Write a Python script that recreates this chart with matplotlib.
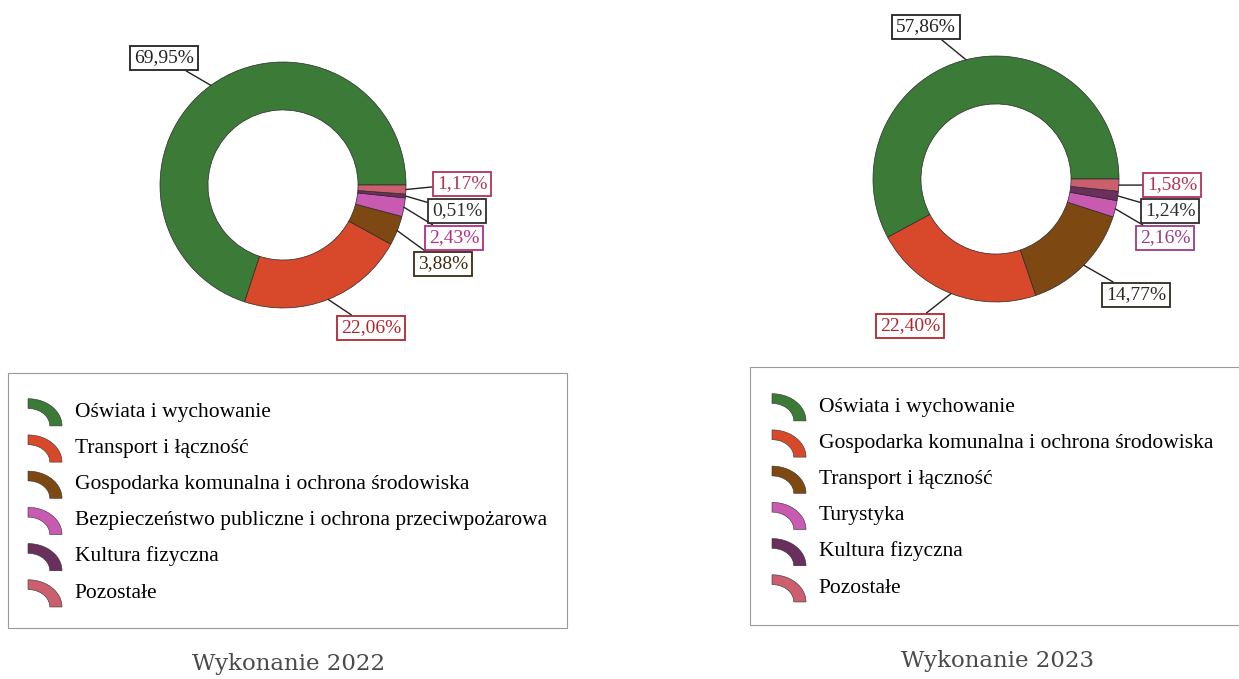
import numpy as np
import matplotlib
matplotlib.use('Agg')
from matplotlib import pyplot as plt
from matplotlib.legend_handler import HandlerPatch
from matplotlib.patches import Polygon, Wedge, Rectangle

plt.rcParams['font.family'] = ['Liberation Serif', 'DejaVu Serif']

# data
categories_2022 = ['Oświata i wychowanie', 'Transport i łączność',
                   'Gospodarka komunalna i ochrona środowiska',
                   'Bezpieczeństwo publiczne i ochrona przeciwpożarowa',
                   'Kultura fizyczna', 'Pozostałe']
shares_2022 = [69.95, 22.06, 3.88, 2.43, 0.51, 1.17]

categories_2023 = ['Oświata i wychowanie',
                   'Gospodarka komunalna i ochrona środowiska',
                   'Transport i łączność', 'Turystyka',
                   'Kultura fizyczna', 'Pozostałe']
shares_2023 = [57.86, 22.40, 14.77, 2.16, 1.24, 1.58]

colors = ['#3b7a37', '#d8482b', '#7e4812', '#c85ab2', '#6a2f5c', '#cc5f6e']
label_colors_2022 = ['#222222', '#b3262e', '#3d2a10', '#b42c86', '#2e2e2e', '#b43358']
label_colors_2023 = ['#222222', '#b3262e', '#2e2a20', '#9a3a88', '#2e2e2e', '#b43358']

# label box positions (pixels, y from bottom)
pos_2022 = [(164, 621), (371, 351), (443, 415), (454, 441), (457, 468), (462, 495)]
pos_2023 = [(926, 652), (910, 353), (1136, 384), (1165, 441), (1170, 468), (1172, 494)]

W, H = 1239, 679
R = 123


class HandlerArc(HandlerPatch):
    # quarter-ring icon like in the original legend
    def create_artists(self, legend, orig_handle, xdescent, ydescent,
                       width, height, fontsize, trans):
        rx, ry = width, width * 0.8
        band = 0.36
        cx = -xdescent
        cy = -ydescent + height / 2 - ry * 0.62
        t = np.linspace(0, np.pi / 2, 30)
        outer = np.column_stack([cx + rx * np.cos(t), cy + ry * np.sin(t)])
        inner = np.column_stack([cx + rx * (1 - band) * np.cos(t[::-1]),
                                 cy + ry * (1 - band) * np.sin(t[::-1])])
        p = Polygon(np.vstack([outer, inner]), closed=True,
                    fc=orig_handle.get_facecolor(), ec='#333333', lw=0.4,
                    transform=trans)
        return [p]


def donut(ax, shares, center, label_pos, label_colors):
    wedges, _ = ax.pie(shares, colors=colors, startangle=0, counterclock=True,
                       radius=R, center=center,
                       wedgeprops=dict(width=R * 0.39, edgecolor='#2a2a2a', linewidth=0.5))
    for w, s, pos, c in zip(wedges, shares, label_pos, label_colors):
        ang = np.deg2rad((w.theta1 + w.theta2) / 2)
        xy = (center[0] + w.r * np.cos(ang), center[1] + w.r * np.sin(ang))
        ax.annotate(f'{s:.2f}%'.replace('.', ','), xy=xy, xytext=pos,
                    ha='center', va='center', fontsize=14, color=c,
                    bbox=dict(boxstyle='square,pad=0.2', fc='white', ec=c, lw=1.3),
                    arrowprops=dict(arrowstyle='-', color='#222222', lw=1.0,
                                    shrinkA=0, shrinkB=0))
    return wedges


fig = plt.figure(figsize=(12.39, 6.79), dpi=100)
ax = fig.add_axes([0, 0, 1, 1])

wedges1 = donut(ax, shares_2022, (283, H - 185), pos_2022, label_colors_2022)
wedges2 = donut(ax, shares_2023, (996, H - 179), pos_2023, label_colors_2023)

ax.set_xlim(0, W)
ax.set_ylim(0, H)
ax.axis('off')

# legend frames drawn separately
ax.add_patch(Rectangle((8, H - 628), 559, 255, fill=False, ec='#9a9a9a', lw=0.8))
ax.add_patch(Rectangle((750, H - 625), 495, 258, fill=False, ec='#9a9a9a', lw=0.8,
                       clip_on=False))

leg_kw = dict(handler_map={Wedge: HandlerArc()}, bbox_transform=fig.transFigure,
              loc='upper left', borderaxespad=0, borderpad=0, labelspacing=0.75,
              handlelength=1.58, handletextpad=0.6, fontsize=15.5, frameon=False)

leg1 = ax.legend(wedges1, categories_2022,
                 bbox_to_anchor=(28 / W, 1 - 401.5 / H), **leg_kw)
ax.add_artist(leg1)

leg2 = ax.legend(wedges2, categories_2023,
                 bbox_to_anchor=(772 / W, 1 - 396.5 / H), **leg_kw)

ax.text(289, H - 664, 'Wykonanie 2022', family='DejaVu Serif', fontsize=16.5,
        color='#4a4a4a', ha='center', va='center')
ax.text(998, H - 661, 'Wykonanie 2023', family='DejaVu Serif', fontsize=16.5,
        color='#4a4a4a', ha='center', va='center')

fig.savefig('out.png', dpi=100)
